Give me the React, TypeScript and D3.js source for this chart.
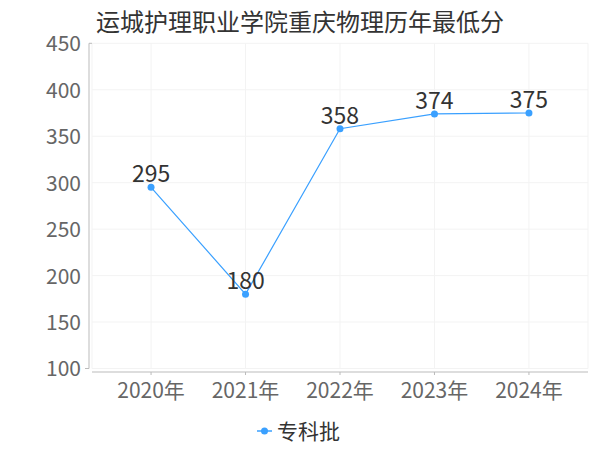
import React, { useEffect } from "react";
import * as d3 from "d3";

const title = "运城护理职业学院重庆物理历年最低分";
const categories = ["2020年", "2021年", "2022年", "2023年", "2024年"];
const values = [295, 180, 358, 374, 375];
const yTicks = [100, 150, 200, 250, 300, 350, 400, 450];
const seriesName = "专科批";

const W = 600;
const H = 450;
const left = 92;
const right = 588;
const top = 43.3;
const bottom = 368.5;
const color = "#3aa0ff";
const font = "'Noto Sans CJK SC', 'Noto Sans', sans-serif";

export default function App() {
  useEffect(() => {
    document.body.style.margin = "0";
  }, []);

  const x = d3.scalePoint<string>().domain(categories).range([left, right]).padding(0.625);
  const y = d3.scaleLinear().domain([100, 450]).range([bottom, top]);

  const line = d3
    .line<number>()
    .x((_, i) => x(categories[i]) as number)
    .y((d) => y(d));

  return (
    <svg width={W} height={H} style={{ display: "block", fontFamily: font }}>
      <rect width={W} height={H} fill="#fff" />
      <text x={300} y={31} textAnchor="middle" fontSize={24} fill="#333">
        {title}
      </text>
      {/* grid */}
      {yTicks.map((t) => (
        <line key={"gy" + t} x1={left} x2={right} y1={y(t)} y2={y(t)} stroke="#f3f3f3" strokeWidth={1} />
      ))}
      {[left, ...categories.map((c) => x(c) as number), right].map((gx, i) => (
        <line key={"gx" + i} x1={gx} x2={gx} y1={top} y2={bottom} stroke="#f3f3f3" strokeWidth={1} />
      ))}
      {/* y axis */}
      <line x1={89} x2={89} y1={top} y2={bottom} stroke="#bbb" strokeWidth={1} />
      <line x1={89} x2={92} y1={top} y2={top} stroke="#bbb" strokeWidth={1} />
      <line x1={85} x2={89} y1={bottom} y2={bottom} stroke="#bbb" strokeWidth={1} />
      {yTicks.map((t) => (
        <text key={"yl" + t} x={81} y={y(t)} dy="0.38em" textAnchor="end" fontSize={21} fill="#666">
          {t}
        </text>
      ))}
      {/* x axis */}
      <line x1={left} x2={right} y1={372} y2={372} stroke="#bbb" strokeWidth={1} />
      {categories.map((c) => (
        <g key={"xl" + c}>
          <line x1={x(c)} x2={x(c)} y1={372} y2={375} stroke="#bbb" strokeWidth={1} />
          <text x={x(c)} y={397.5} textAnchor="middle" fontSize={21} fill="#666">
            {c}
          </text>
        </g>
      ))}
      {/* series */}
      <path d={line(values) || ""} fill="none" stroke={color} strokeWidth={1.2} />
      {values.map((v, i) => (
        <g key={"p" + i}>
          <circle cx={x(categories[i])} cy={y(v)} r={3.5} fill={color} />
          <text x={x(categories[i])} y={y(v) - 5} textAnchor="middle" fontSize={23} fill="#333">
            {v}
          </text>
        </g>
      ))}
      {/* legend */}
      <line x1={257} x2={272} y1={431} y2={431} stroke={color} strokeWidth={1.5} />
      <circle cx={264.5} cy={431} r={3.5} fill={color} />
      <text x={277} y={431} dy="0.36em" fontSize={21} fill="#333">
        {seriesName}
      </text>
    </svg>
  );
}
